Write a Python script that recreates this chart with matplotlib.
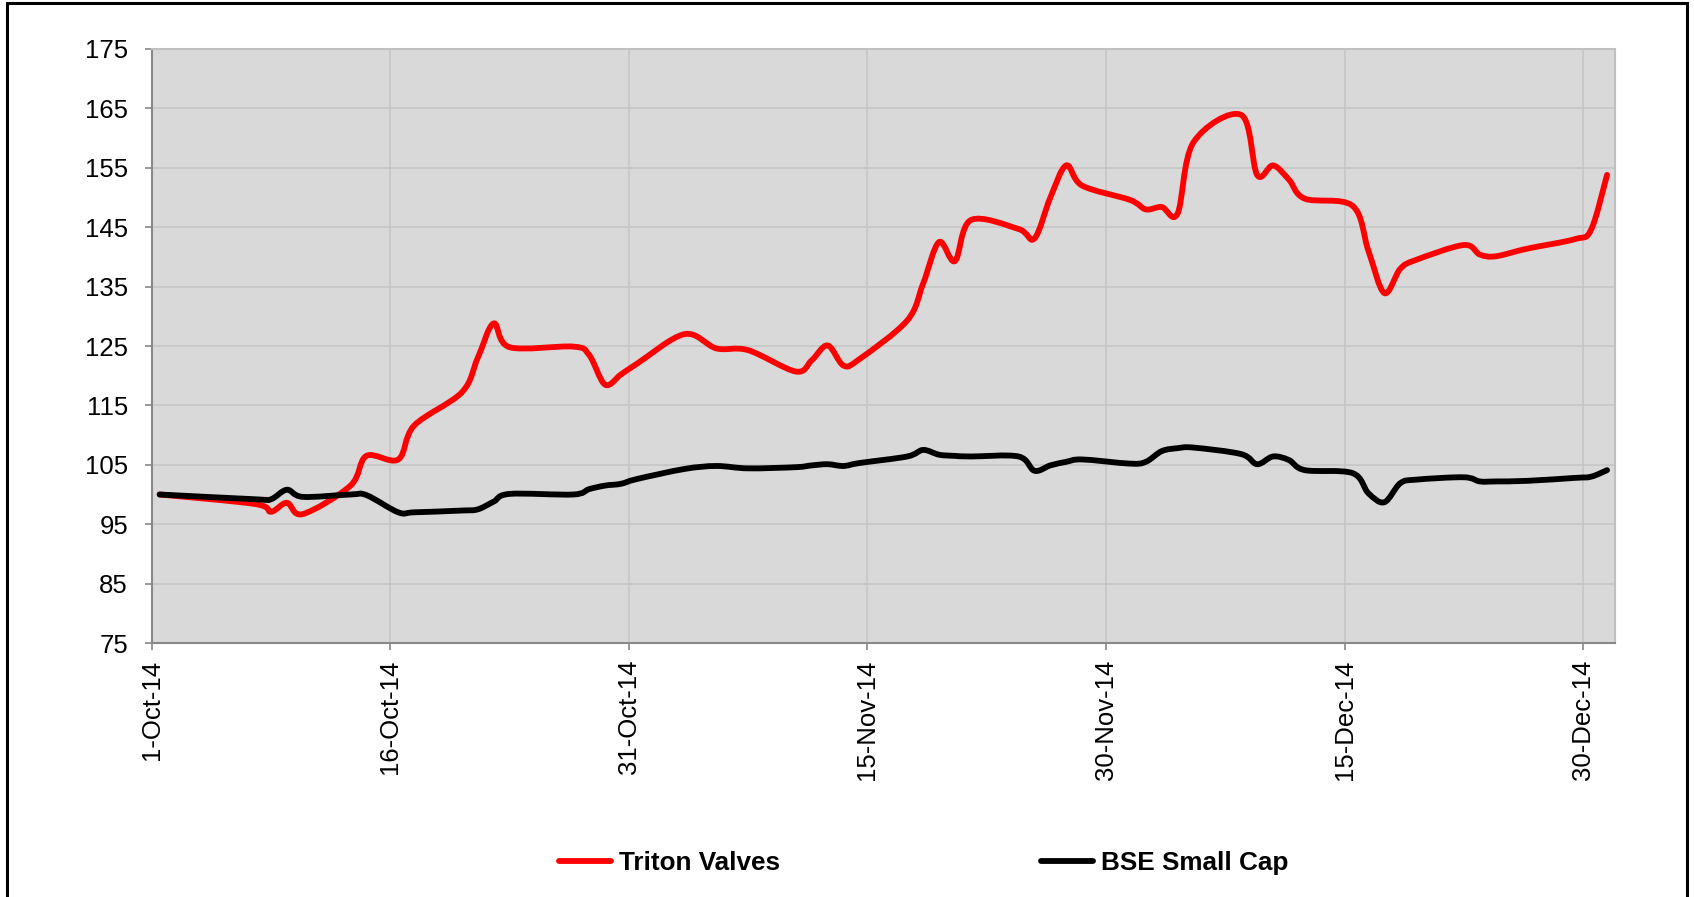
import datetime as dt

import numpy as np
import matplotlib
matplotlib.use("Agg")
from matplotlib import pyplot as plt
from matplotlib import dates as mdates
from matplotlib.path import Path
from matplotlib.patches import PathPatch, Rectangle
from matplotlib.lines import Line2D

plt.rcParams["font.family"] = ["Liberation Sans", "DejaVu Sans"]

# trading days, Oct-Dec 2014
dates = [
    "2014-10-01", "2014-10-07", "2014-10-08", "2014-10-09", "2014-10-10", "2014-10-13",
    "2014-10-14", "2014-10-16", "2014-10-17", "2014-10-20", "2014-10-21", "2014-10-22",
    "2014-10-23", "2014-10-27", "2014-10-28", "2014-10-29", "2014-10-30", "2014-10-31",
    "2014-11-03", "2014-11-05", "2014-11-07", "2014-11-10", "2014-11-11", "2014-11-12",
    "2014-11-13", "2014-11-14", "2014-11-17", "2014-11-18", "2014-11-19", "2014-11-20",
    "2014-11-21", "2014-11-24", "2014-11-25", "2014-11-26", "2014-11-27", "2014-11-28",
    "2014-12-01", "2014-12-02", "2014-12-03", "2014-12-04", "2014-12-05", "2014-12-08",
    "2014-12-09", "2014-12-10", "2014-12-11", "2014-12-12", "2014-12-15", "2014-12-16",
    "2014-12-17", "2014-12-18", "2014-12-19", "2014-12-22", "2014-12-23", "2014-12-24",
    "2014-12-26", "2014-12-29", "2014-12-30", "2014-12-31",
]
triton = [
    100.0, 98.4, 97.1, 98.6, 96.7, 101.5,
    106.5, 105.9, 111.6, 117.2, 123.0, 128.8,
    124.8, 124.9, 123.5, 118.5, 120.2, 122.0,
    127.0, 124.6, 124.3, 120.7, 122.6, 125.1,
    121.7, 122.8, 129.3, 135.5, 142.5, 139.3,
    146.2, 144.7, 143.1, 150.0, 155.4, 152.0,
    149.6, 148.0, 148.4, 147.3, 159.3, 163.9,
    153.8, 155.4, 153.0, 149.8, 148.6, 141.0,
    133.9, 138.0, 139.5, 142.0, 140.4, 140.1,
    141.4, 143.0, 144.6, 153.8,
]
bse_small = [
    100.0, 99.2, 99.2, 100.8, 99.6, 100.0,
    99.9, 97.0, 97.0, 97.3, 97.5, 98.8,
    100.1, 100.0, 100.9, 101.5, 101.8, 102.6,
    104.3, 104.8, 104.4, 104.6, 104.9, 105.1,
    104.8, 105.3, 106.4, 107.5, 106.7, 106.5,
    106.4, 106.4, 104.0, 104.9, 105.5, 105.9,
    105.2, 105.5, 107.3, 107.8, 107.9, 106.8,
    105.1, 106.4, 105.8, 104.1, 103.6, 100.2,
    98.7, 101.9, 102.5, 102.9, 102.2, 102.2,
    102.3, 102.8, 103.0, 104.1,
]
series_names = ["Triton Valves", "BSE Small Cap"]
series_colors = ["#ff0000", "#000000"]
tick_dates = ["2014-10-01", "2014-10-16", "2014-10-31", "2014-11-15",
              "2014-11-30", "2014-12-15", "2014-12-30"]


def smooth_path(x, y):
    # Excel-like smoothed line: cubic bezier with catmull-rom control points
    pts = np.column_stack([x, y])
    ext = np.vstack([pts[0], pts, pts[-1]])
    verts = [pts[0]]
    codes = [Path.MOVETO]
    for i in range(len(pts) - 1):
        p0, p1, p2, p3 = ext[i], ext[i + 1], ext[i + 2], ext[i + 3]
        verts += [p1 + (p2 - p0) / 6, p2 - (p3 - p1) / 6, p2]
        codes += [Path.CURVE4] * 3
    return Path(verts, codes)


# points sit in the middle of each day (date axis, "between tick marks")
x = mdates.date2num([dt.datetime.fromisoformat(d) for d in dates]) + 0.5
ticks = mdates.date2num([dt.datetime.fromisoformat(d) for d in tick_dates])

fig = plt.figure(figsize=(16.94, 8.97), dpi=100)
ax = fig.add_axes([151.7 / 1694, 1 - 643 / 897, (1615 - 151.7) / 1694, (643 - 49) / 897])
ax.set_facecolor("#d9d9d9")

handles = []
for values, name, color in zip([triton, bse_small], series_names, series_colors):
    ax.add_patch(PathPatch(smooth_path(x, values), fill=False, edgecolor=color, lw=4.2,
                           capstyle="round", joinstyle="round", zorder=3))
    handles.append(Line2D([], [], color=color, lw=4.2, solid_capstyle="round", label=name))

ax.set_xlim(mdates.date2num(dt.datetime(2014, 10, 1)), mdates.date2num(dt.datetime(2015, 1, 1)))
ax.set_ylim(75, 175)
ax.set_yticks(np.arange(75, 176, 10))
ax.set_xticks(ticks)
ax.set_xticklabels([f"{d.day}-{d.strftime('%b-%y')}" for d in mdates.num2date(ticks)], rotation=90)
ax.grid(True, color="#c6c6c6", lw=1.2)
ax.set_axisbelow(True)
ax.tick_params(axis="y", labelsize=18.5, length=5, width=1.2, color="#888888", pad=12)
ax.tick_params(axis="x", labelsize=18.5, length=5, width=1.2, color="#888888", pad=7)
for side in ["left", "bottom"]:
    ax.spines[side].set_color("#888888")
    ax.spines[side].set_linewidth(1.5)
for side in ["top", "right"]:
    ax.spines[side].set_color("#c0c0c0")
    ax.spines[side].set_linewidth(1.5)

fig.legend(handles=handles, loc="center", bbox_to_anchor=(923.5 / 1694, 1 - 863.3 / 897),
           ncol=2, frameon=False, handlelength=2.0, handletextpad=0.3, columnspacing=10.0,
           borderpad=0, prop={"weight": "bold", "size": 18.8})

# outer chart border, its bottom edge falls below the figure like the source
fig.add_artist(Rectangle((6.7 / 1694, 1 - 3 / 897 - 1.2), (1686.7 - 6.7) / 1694, 1.2,
                         transform=fig.transFigure, fill=False, edgecolor="black", lw=2.2))

fig.savefig("out.png", dpi=100)
plt.close(fig)
